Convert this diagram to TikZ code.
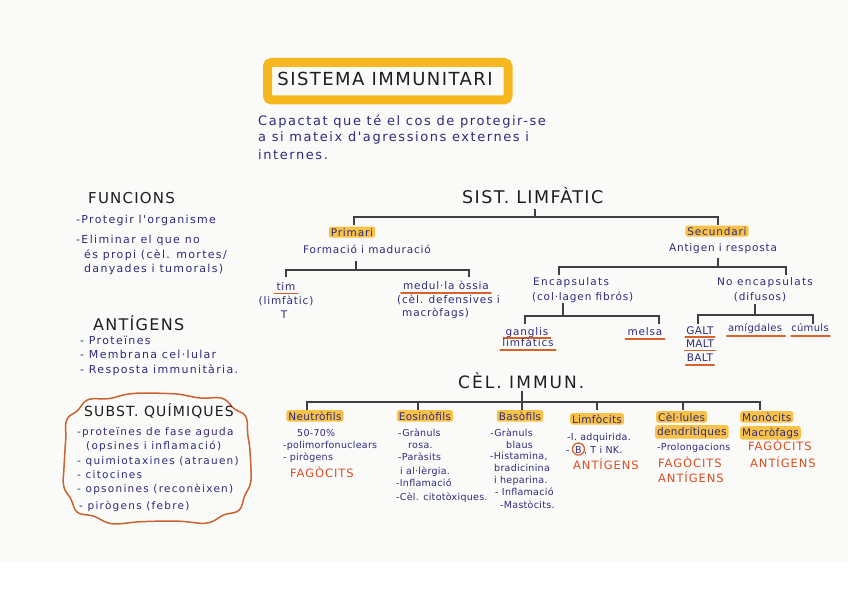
\documentclass[tikz,border=0pt]{standalone}
\usepackage{fontspec}
\newfontfamily\hand{DejaVu Sans}[LetterSpace=8]
\newfontfamily\handw{DejaVu Sans}[LetterSpace=12]
\newfontfamily\handn{DejaVu Sans}[LetterSpace=3]
\newfontfamily\headf{DejaVu Sans}[LetterSpace=8]
\newfontfamily\headw{DejaVu Sans}[LetterSpace=12]
\definecolor{ink}{HTML}{2E2C7A}
\definecolor{headc}{HTML}{1E1E1E}
\definecolor{orng}{HTML}{D9622B}
\definecolor{redt}{HTML}{DA4E22}
\definecolor{hlc}{HTML}{F8B82A}
\definecolor{framec}{HTML}{F6B81E}
\definecolor{cloudc}{HTML}{C9632F}
\definecolor{paper}{HTML}{FAFAF9}
\tikzset{
 tx/.style={font=\hand\fontsize{10.5}{12}\selectfont, text=ink, inner sep=0pt, anchor=base west},
 txc/.style={tx, anchor=base},
 lst/.style={tx, font=\handw\fontsize{11}{13}\selectfont},
 slst/.style={tx, font=\handw\fontsize{10.5}{12}\selectfont},
 cell/.style={tx, font=\handn\fontsize{9.5}{11}\selectfont},
 lab/.style={tx, font=\handn\fontsize{10.5}{12}\selectfont},
 labc/.style={lab, anchor=base},
 desc/.style={tx, font=\handw\fontsize{13}{15}\selectfont},
 hd/.style={font=\headf\fontsize{15}{16}\selectfont, text=headc, inner sep=0pt, anchor=base west},
 redcap/.style={font=\headf\fontsize{11.5}{12}\selectfont, text=redt, inner sep=0pt, anchor=base west},
 hl/.style={fill=hlc, fill opacity=0.85, text opacity=1, inner xsep=2pt, inner ysep=1.5pt, rounded corners=2.5pt},
 ulc/.style={draw=orng, line width=1.5pt, line cap=round},
 br/.style={draw=headc!85, line width=1.2pt},
}
\begin{document}
\begin{tikzpicture}[x=1pt,y=-1pt]
\useasboundingbox (0,0) rectangle (848,599);
\fill[paper] (0,0) rectangle (848,562);

% title
\draw[framec, line width=9pt, rounded corners=4pt] (267.5,62.5) rectangle (508,100);
\node[font=\headf\fontsize{18}{20}\selectfont, text=headc, inner sep=0pt, anchor=base] (title) at (385,86) {SISTEMA IMMUNITARI};
\node[desc] (d1) at (258,125) {Capactat que té el cos de protegir-se};
\node[desc] (d2) at (258,142) {a si mateix d'agressions externes i};
\node[desc] (d3) at (258,159) {internes.};

% funcions
\node[hd] (fun) at (88,203) {FUNCIONS};
\node[lst] (f1) at (76,223) {-Protegir l'organisme};
\node[lst] (f2) at (76,243) {-Eliminar el que no};
\node[lst] (f3) at (84,258) {és propi (cèl. mortes/};
\node[lst] (f4) at (84,272) {danyades i tumorals)};

% antigens
\node[hd, font=\headf\fontsize{16}{17}\selectfont] (ant) at (93,330) {ANTÍGENS};
\node[lst] (a1) at (80,344) {- Proteïnes};
\node[lst] (a2) at (80,358) {- Membrana cel·lular};
\node[lst] (a3) at (80,373) {- Resposta immunitària.};

% subst quimiques
\draw[cloudc, line width=1.5pt] plot[smooth cycle, domain=0:357, samples=120, variable=\t]
  ({157+93*sign(cos(\t))*pow(abs(cos(\t))+0.00001,0.55)*(1+0.015*sin(11*\t+20))},
   {459+64*sign(sin(\t))*pow(abs(sin(\t))+0.00001,0.55)*(1+0.03*sin(11*\t+20))});
\node[hd, font=\headf\fontsize{14}{16}\selectfont] (sq) at (84,416) {SUBST. QUÍMIQUES};
\node[slst] (s1) at (77,435) {-proteïnes de fase aguda};
\node[slst] (s2) at (86,449) {(opsines i inflamació)};
\node[slst] (s3) at (77,464) {- quimiotaxines (atrauen)};
\node[slst] (s4) at (77,478) {- citocines};
\node[slst] (s5) at (77,492) {- opsonines (reconèixen)};
\node[slst] (s6) at (79,509) {- pirògens (febre)};

% sist limfatic
\node[hd, font=\headf\fontsize{17.5}{19}\selectfont] (limf) at (462,203) {SIST. LIMFÀTIC};
\node[txc, hl] (prim) at (352,236) {Primari};
\node[txc] (prim2) at (367,253) {Formació i maduració};
\node[txc, hl] (sec) at (717,235) {Secundari};
\node[txc] (sec2) at (723,251) {Antigen i resposta};
\coordinate (b1l) at (354,217);
\coordinate (b1r) at (718,217);
\draw[br] (535,209) -- (535,217);
\draw[br] (354,225) -- (b1l) -- (b1r) -- (718,225);

% primari subtree
\draw[br] (356,261) -- (356,270);
\draw[br] (286,277) -- (286,270) -- (469,270) -- (469,277);
\node[txc] (tim) at (286,290) {tim};
\draw[ulc] ([yshift=-3.5pt,xshift=-2pt]tim.base west) -- ([yshift=-3.5pt,xshift=2pt]tim.base east);
\node[txc] (tim2) at (286,304) {(limfàtic)};
\node[txc] (tim3) at (284,318) {T};
\node[txc] (med) at (446,289) {medul·la òssia};
\draw[ulc] ([yshift=-4pt,xshift=-2pt]med.base west) -- ([yshift=-4pt,xshift=2pt]med.base east);
\node[tx] (med2) at (397,303) {(cèl. defensives i};
\node[tx] (med3) at (402,316) {macròfags)};

% secundari subtree
\draw[br] (718,258) -- (718,267);
\draw[br] (559,275) -- (559,267) -- (786,267) -- (786,275);
\node[tx, font=\handw\fontsize{10.5}{12}\selectfont] (enc) at (533,285) {Encapsulats};
\node[tx] (enc2) at (532,300) {(col·lagen fibrós)};
\node[txc, font=\handw\fontsize{10.5}{12}\selectfont] (noe) at (765,285) {No encapsulats};
\node[txc] (noe2) at (760,300) {(difusos)};
\draw[br] (563,303) -- (563,316);
\draw[br] (525,324) -- (525,316) -- (659,316) -- (659,324);
\draw[br] (755,304) -- (755,315);
\draw[br] (698,324) -- (698,315) -- (813,315) -- (813,324);
\node[txc] (gang) at (527,335) {ganglis};
\draw[ulc] ([yshift=-3pt,xshift=-2pt]gang.base west) -- ([yshift=-3pt,xshift=2pt]gang.base east);
\node[txc] (gang2) at (528,346) {limfàtics};
\draw[ulc] ([yshift=-4pt,xshift=-2pt]gang2.base west) -- ([yshift=-4pt,xshift=2pt]gang2.base east);
\node[txc] (mel) at (645,335) {melsa};
\draw[ulc] ([yshift=-4pt,xshift=-2pt]mel.base west) -- ([yshift=-4pt,xshift=2pt]mel.base east);
\node[txc, font=\handn\fontsize{10.5}{12}\selectfont] (galt) at (700,334) {GALT};
\draw[ulc] ([yshift=-3pt,xshift=-1pt]galt.base west) -- ([yshift=-3pt,xshift=1pt]galt.base east);
\node[txc, font=\handn\fontsize{10.5}{12}\selectfont] (malt) at (700,347.5) {MALT};
\draw[ulc] ([yshift=-3pt,xshift=-1pt]malt.base west) -- ([yshift=-3pt,xshift=1pt]malt.base east);
\node[txc, font=\handn\fontsize{10.5}{12}\selectfont] (balt) at (700,361.5) {BALT};
\draw[ulc] ([yshift=-3.5pt,xshift=-1pt]balt.base west) -- ([yshift=-3.5pt,xshift=1pt]balt.base east);
\node[txc, font=\handn\fontsize{10}{12}\selectfont] (amig) at (755,331) {amígdales};
\draw[ulc] ([yshift=-5pt,xshift=-1pt]amig.base west) -- ([yshift=-5pt,xshift=3pt]amig.base east);
\node[txc, font=\handn\fontsize{10}{12}\selectfont] (cum) at (810,331) {cúmuls};
\draw[ulc] ([yshift=-5pt]cum.base west) -- ([yshift=-5pt,xshift=1pt]cum.base east);

% cel immun
\node[hd, font=\headw\fontsize{17}{18}\selectfont] (cel) at (458,388) {CÈL. IMMUN.};
\draw[br] (522,391) -- (522,410);
\draw[br] (307,410) -- (307,402) -- (760,402) -- (760,410);
\foreach \xx in {418,597,683} \draw[br] (\xx,402) -- (\xx,410);

% neutrofils
\node[labc, hl] (neu) at (315,420) {Neutròfils};
\node[cell] (neu1) at (297,436) {50-70\%};
\node[cell] (neu2) at (283,448) {-polimorfonuclears};
\node[cell] (neu3) at (283,460) {- pirògens};
\node[redcap] (neu4) at (290,477) {FAGÒCITS};

% eosinofils
\node[labc, hl] (eos) at (425,420) {Eosinòfils};
\node[cell] (eos1) at (398,436) {-Grànuls};
\node[cell] (eos2) at (408,448) {rosa.};
\node[cell] (eos3) at (398,460) {-Paràsits};
\node[cell] (eos4) at (400,474) {i al·lèrgia.};
\node[cell] (eos5) at (396,486) {-Inflamació};
\node[cell] (eos6) at (396,500) {-Cèl. citotòxiques.};

% basofils
\node[labc, hl] (bas) at (520,420) {Basòfils};
\node[cell] (bas1) at (490,436) {-Grànuls};
\node[cell] (bas2) at (506,448) {blaus};
\node[cell] (bas3) at (490,459) {-Histamina,};
\node[cell] (bas4) at (494,471) {bradicinina};
\node[cell] (bas5) at (494,483) {i heparina.};
\node[cell] (bas6) at (495,495) {- Inflamació};
\node[cell] (bas7) at (500,508) {-Mastòcits.};

% limfocits
\node[labc, hl] (lim) at (597,423) {Limfòcits};
\node[cell] (lim1) at (567,440) {-I. adquirida.};
\node[cell] (lim2a) at (566,453) {-};
\node[cell] (lim2b) at (575,453) {B};
\node[cell, anchor=base west] (lim2c) at ([xshift=2pt]lim2b.base east) {, T i NK.};
\draw[orng, line width=1.3pt] ([yshift=0.5pt]lim2b.center) circle (6pt);
\node[redcap] (lim3) at (573,469) {ANTÍGENS};

% cel.lules dendritiques
\node[lab, hl] (den) at (656,421) {Cèl·lules};
\node[lab, hl] (den1) at (655,435) {dendrítiques};
\node[cell] (den2) at (657,450) {-Prolongacions};
\node[redcap] (den3) at (658,467) {FAGÒCITS};
\node[redcap] (den4) at (658,482) {ANTÍGENS};

% monocits
\node[lab, hl] (mon) at (740,421) {Monòcits};
\node[lab, hl] (mon1) at (740,436) {Macròfags};
\node[redcap] (mon2) at (748,450) {FAGÒCITS};
\node[redcap] (mon3) at (750,467) {ANTÍGENS};
\end{tikzpicture}
\end{document}
